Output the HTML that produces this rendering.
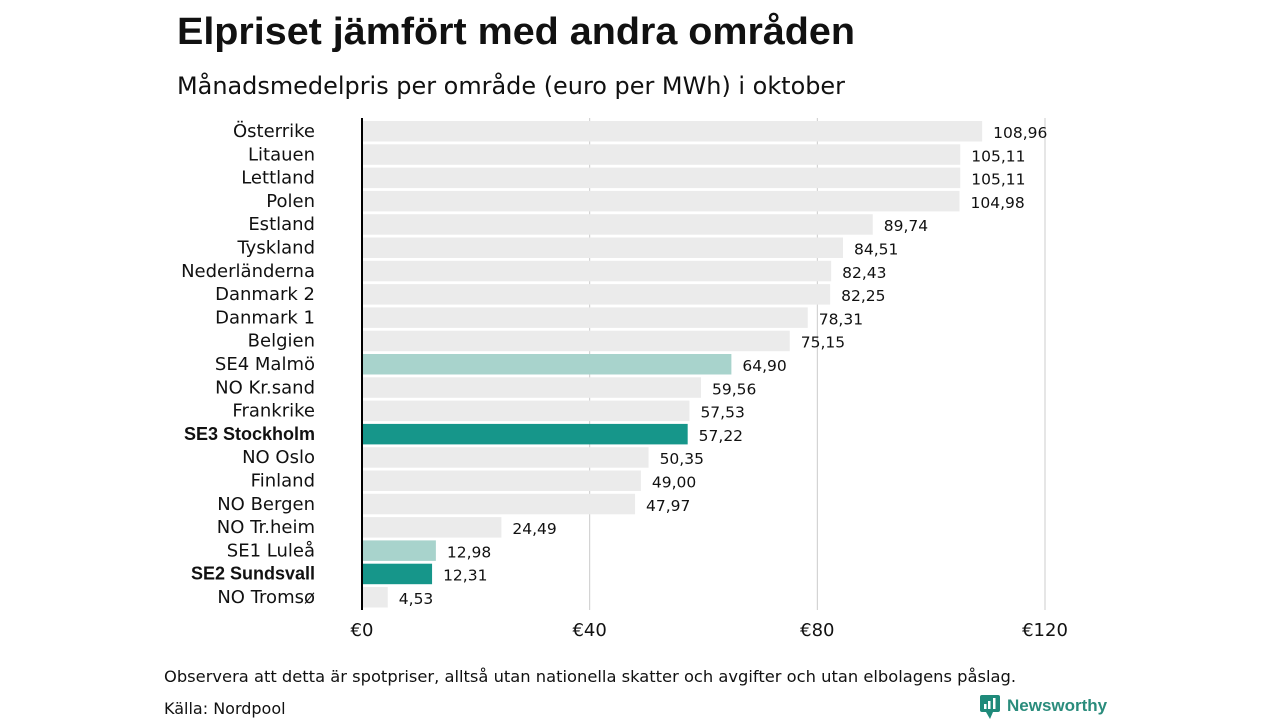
<!DOCTYPE html>
<html><head><meta charset="utf-8"><style>
body{margin:0;background:#fff;width:1280px;height:720px;overflow:hidden;font-family:"DejaVu Sans","Liberation Sans",sans-serif}
</style></head><body>
<svg id="c" width="1280" height="720" xmlns="http://www.w3.org/2000/svg">
<text x="177" y="44" font-size="38" font-weight="bold" fill="#111" font-family="Liberation Sans, sans-serif" textLength="678" lengthAdjust="spacingAndGlyphs">Elpriset jämfört med andra områden</text>
<text x="177" y="94" font-size="24" fill="#111" textLength="668" lengthAdjust="spacingAndGlyphs">Månadsmedelpris per område (euro per MWh) i oktober</text>
<g id="grid"></g><g id="bars"></g>
<line x1="362" y1="118" x2="362" y2="610" stroke="#000" stroke-width="2"/>
<text x="164" y="682" font-size="16" fill="#111" textLength="852" lengthAdjust="spacingAndGlyphs">Observera att detta är spotpriser, alltså utan nationella skatter och avgifter och utan elbolagens påslag.</text>
<text x="164" y="714" font-size="16" fill="#111">Källa: Nordpool</text>
<g>
<rect x="980" y="695" width="20" height="17" rx="2" fill="#1f8a7a"/><path d="M986 712 L990 719 L993 712Z" fill="#1f8a7a"/>
<rect x="984" y="704" width="2.5" height="5" fill="#fff"/><rect x="988" y="701" width="2.5" height="8" fill="#fff"/><rect x="993" y="698" width="2.5" height="11" fill="#fff"/>
<text x="1007" y="711" font-size="17" font-weight="bold" fill="#2a8c7c" font-family="Liberation Sans, sans-serif">Newsworthy</text>
</g>
</svg>
<script>
const categories=["Österrike","Litauen","Lettland","Polen","Estland","Tyskland","Nederländerna","Danmark  2","Danmark  1","Belgien","SE4  Malmö","NO Kr.sand","Frankrike","SE3 Stockholm","NO Oslo","Finland","NO Bergen","NO Tr.heim","SE1  Luleå","SE2 Sundsvall","NO Tromsø"];
const values=[108.96,105.11,105.11,104.98,89.74,84.51,82.43,82.25,78.31,75.15,64.90,59.56,57.53,57.22,50.35,49.00,47.97,24.49,12.98,12.31,4.53];
const highlight=["","","","","","","","","","","light","","","dark","","","","","light","dark",""];
const ticks=[0,40,80,120];
const tickLabels=["€0","€40","€80","€120"];
const NS="http://www.w3.org/2000/svg";
const x=v=>362+v*(1045-362)/120;
const y=i=>121+i*23.3;
function mk(t,a,p){const e=document.createElementNS(NS,t);for(const k in a)e.setAttribute(k,a[k]);p.appendChild(e);return e;}
const grid=document.getElementById('grid'),bars=document.getElementById('bars');
ticks.forEach((t,i)=>{
 if(t>0){const l=mk('line',{x1:x(t),x2:x(t),y1:118,y2:610,stroke:'#ccc','stroke-width':1},grid);
 
 }
 const tx=mk('text',{x:x(t),y:636,'font-size':18,'text-anchor':'middle',fill:'#111'},grid);
 tx.textContent=tickLabels[i];
 
 
});
categories.forEach((c,i)=>{
 const col=highlight[i]==='dark'?'#16968a':highlight[i]==='light'?'#a8d3cc':'#ebebeb';
 const r=mk('rect',{x:x(0),y:y(i),width:x(values[i])-x(0),height:20.5,fill:col},bars);
 
 
 const bold=highlight[i]==='dark';
 const l=mk('text',{x:315,y:y(i)+16,'font-size':bold?18:18,'text-anchor':'end',fill:'#111','font-weight':bold?'bold':'normal','font-family':bold?'Liberation Sans, sans-serif':'DejaVu Sans, sans-serif','xml:space':'preserve'},bars);
 l.textContent=c;
 
 
 const v=mk('text',{x:x(values[i])+11,y:y(i)+17,'font-size':15.5,fill:'#111'},bars);
 v.textContent=values[i].toFixed(2).replace('.',',');
 
 
});
</script>
</body></html>
